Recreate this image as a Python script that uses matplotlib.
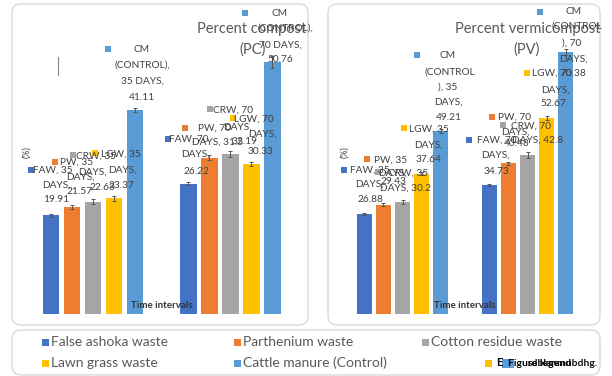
import matplotlib.pyplot as plt
from matplotlib.patches import FancyBboxPatch, Rectangle

W, H = 612, 376

wastes = ["False ashoka waste", "Parthenium waste", "Cotton residue waste",
          "Lawn grass waste", "Cattle manure (Control)"]
codes = ["FAW", "PW", "CRW", "LGW", "CM"]
colors = ["#4472C4", "#ED7D31", "#A5A5A5", "#FFC000", "#5B9BD5"]
days = [35, 70]

# percent compost (PC)
pc_35 = [19.91, 21.57, 22.63, 23.37, 41.11]
pc_70 = [26.22, 31.5, 32.19, 30.33, 50.76]
pc_err_35 = [0.3, 0.4, 0.5, 0.5, 0.4]
pc_err_70 = [0.3, 0.5, 0.6, 0.4, 1.2]

# percent vermicompost (PV)
pv_35 = [26.88, 29.43, 30.2, 37.64, 49.21]
pv_70 = [34.73, 40.48, 42.8, 52.67, 70.38]
pv_err_35 = [0.3, 0.4, 0.5, 0.4, 0.5]
pv_err_70 = [0.3, 0.5, 0.8, 0.5, 0.8]

LABEL_FONT = ["Lato", "DejaVu Sans"]
TXT = "#404040"

fig = plt.figure(figsize=(W / 100, H / 100), dpi=100)
fig.patch.set_facecolor("white")

# background canvas in pixel coords
bg = fig.add_axes([0, 0, 1, 1], zorder=0)
bg.set_xlim(0, W)
bg.set_ylim(H, 0)
bg.axis("off")

# overlay canvas for data labels
fg = fig.add_axes([0, 0, 1, 1], zorder=5)
fg.set_xlim(0, W)
fg.set_ylim(H, 0)
fg.axis("off")
fg.patch.set_alpha(0)


def box(x0, y0, x1, y1):
    bg.add_patch(FancyBboxPatch((x0, y0), x1 - x0, y1 - y0,
                                boxstyle="round,pad=0,rounding_size=9",
                                fc="white", ec="#d9d9d9", lw=1.0))


box(12, 4, 308, 325)
box(328, 4, 600, 325)
box(12, 330, 600, 375)


def px_axes(l, r, t, b):
    return fig.add_axes([l / W, 1 - b / H, (r - l) / W, (b - t) / H], zorder=2)


def draw_bars(ax, v35, v70, e35, e70, ymax, xlim):
    off = 0.153
    for i in range(5):
        xs = [0 + (i - 2) * off, 1 + (i - 2) * off]
        vals = [v35[i], v70[i]]
        errs = [e35[i], e70[i]]
        ax.bar(xs, vals, width=0.118, color=colors[i], zorder=2)
        ax.errorbar(xs, vals, yerr=errs, fmt="none", ecolor="#555555",
                    elinewidth=0.7, capsize=1.5, capthick=0.7, zorder=3)
    ax.set_ylim(0, ymax)
    ax.set_xlim(*xlim)
    ax.axis("off")


ax1 = px_axes(30, 295, 20, 314)
draw_bars(ax1, pc_35, pc_70, pc_err_35, pc_err_70, 294 / 4.96, (-0.46, 1.47))
ax2 = px_axes(340, 590, 20, 314)
draw_bars(ax2, pv_35, pv_70, pv_err_35, pv_err_70, 294 / 3.72, (-0.5, 1.5))


def fmt(v):
    return f"{v:g}"


def label(i, sq, lines):
    fg.add_patch(Rectangle((sq[0] - 3, sq[1] - 3), 6, 6, color=colors[i], lw=0))
    for txt, cx, cy in lines:
        fg.text(cx, cy, txt, ha="center", va="center", fontsize=7.3,
                family=LABEL_FONT, color=TXT)


# titles
for t, cx, cy in [("Percent compost", 252, 29), ("(PC)", 253, 50),
                  ("Percent vermicompost", 528, 29), ("(PV)", 527, 50)]:
    fg.text(cx, cy, t, ha="center", va="center", fontsize=10.5,
            family=["Lato", "DejaVu Sans"], color="#595959", zorder=1)

# left panel labels (PC)
label(0, (31, 170), [(f"FAW, {days[0]}", 53, 170), ("DAYS,", 56, 185), (fmt(pc_35[0]), 56, 200)])
label(1, (55, 162), [(f"PW, {days[0]}", 77, 162), ("DAYS,", 80, 177), (fmt(pc_35[1]), 80, 192)])
label(2, (73, 155), [(f"CRW, {days[0]}", 96, 156), ("DAYS,", 92, 172), (fmt(pc_35[2]), 102, 188)])
label(3, (95, 153), [(f"LGW, {days[0]}", 121, 154), ("DAYS,", 122, 170), (fmt(pc_35[3]), 121, 185)])
label(4, (108, 49), [("CM", 141, 49), ("(CONTROL),", 142, 65), (f"{days[0]} DAYS,", 142, 81),
                     (fmt(pc_35[4]), 142, 97)])
label(0, (168, 139), [(f"FAW, {days[1]}", 189, 139), ("DAYS,", 195, 154), (fmt(pc_70[0]), 196, 171)])
label(1, (185, 128), [(f"PW, {days[1]}", 215, 128), (f"DAYS, {fmt(pc_70[1])}", 218, 142)])
label(2, (210, 109), [(f"CRW, {days[1]}", 233, 110), ("DAYS,", 237, 127), (fmt(pc_70[2]), 245, 142)])
label(3, (233, 118), [(f"LGW, {days[1]}", 254, 119), ("DAYS,", 262, 134), (fmt(pc_70[3]), 260, 151)])
label(4, (245, 13), [("CM", 279, 13), ("(CONTROL),", 285, 28), (f"{days[1]} DAYS,", 280, 45),
                     (fmt(pc_70[4]), 280, 60)])

# right panel labels (PV)
label(0, (344, 170), [(f"FAW, {days[0]}", 370, 170), ("DAYS,", 369, 184), (fmt(pv_35[0]), 370, 200)])
label(1, (367, 159), [(f"PW, {days[0]}", 391, 160), ("DAYS,", 392, 173), (fmt(pv_35[1]), 393, 182)])
label(2, (378, 172), [(f"CRW, {days[0]}", 408, 173), (f"DAYS, {fmt(pv_35[2])}", 405, 188)])
label(3, (404, 128), [(f"LGW, {days[0]}", 429, 129), ("DAYS,", 428, 145), (fmt(pv_35[3]), 429, 160)])
label(4, (417, 55), [("CM", 447, 55), ("(CONTROL", 450, 72), (f"), {days[0]}", 448, 87),
                     ("DAYS,", 448, 102), (fmt(pv_35[4]), 449, 117)])
label(0, (469, 140), [(f"FAW, {days[1]}", 497, 140), ("DAYS,", 495, 155), (fmt(pv_70[0]), 497, 172)])
label(1, (492, 117), [(f"PW, {days[1]}", 515, 117), ("DAYS,", 515, 132), (fmt(pv_70[1]), 517, 143)])
label(2, (503, 125), [(f"CRW, {days[1]}", 531, 126), (f"DAYS, {fmt(pv_70[2])}", 538, 140)])
label(3, (527, 73), [(f"LGW, {days[1]}", 552, 73), ("DAYS,", 555, 90), (fmt(pv_70[3]), 553, 104)])
label(4, (540, 12), [("CM", 573, 12), ("(CONTROL", 577, 26), (f"), {days[1]}", 572, 43),
                     ("DAYS,", 573, 59), (fmt(pv_70[4]), 573, 74)])

# axis titles
for cx in (27, 345):
    fg.text(cx, 152, "(%)", rotation=90, ha="center", va="center", fontsize=6.5,
            family=LABEL_FONT, color=TXT)
for cx in (162, 465):
    fg.text(cx, 305, "Time intervals", ha="center", va="center", fontsize=7,
            family=LABEL_FONT, color="#333333", fontweight="bold")
fg.plot([58, 58], [57, 75], color="#888888", lw=0.8)

# legend
leg_pos = [(45, 342), (237, 342), (425, 342), (45, 363), (237, 363)]
for i, (x, y) in enumerate(leg_pos):
    bg.add_patch(Rectangle((x - 3, y - 3.5), 6.5, 7, color=colors[i], lw=0))
    bg.text(x + 6, y, wastes[i], ha="left", va="center", fontsize=10,
            family=["Lato", "DejaVu Sans"], color="#595959")
# garbled legend entry, as in the source image
bg.add_patch(Rectangle((485, 359.5), 6.5, 7, color=colors[3], lw=0))
bg.add_patch(Rectangle((502, 358.5), 12, 9, color=colors[4], lw=0))
bg.text(496, 363, "E", ha="left", va="center", fontsize=8, family=LABEL_FONT,
        color="black", fontweight="bold")
bg.text(508, 363, "Figure legend", ha="left", va="center", fontsize=7.5,
        family=LABEL_FONT, color="black", fontweight="bold")
bg.text(528, 363, "sdblanmubdhg.", ha="left", va="center", fontsize=7.5,
        family=LABEL_FONT, color="#111111", fontweight="bold")

fig.savefig("out.png", dpi=100)
